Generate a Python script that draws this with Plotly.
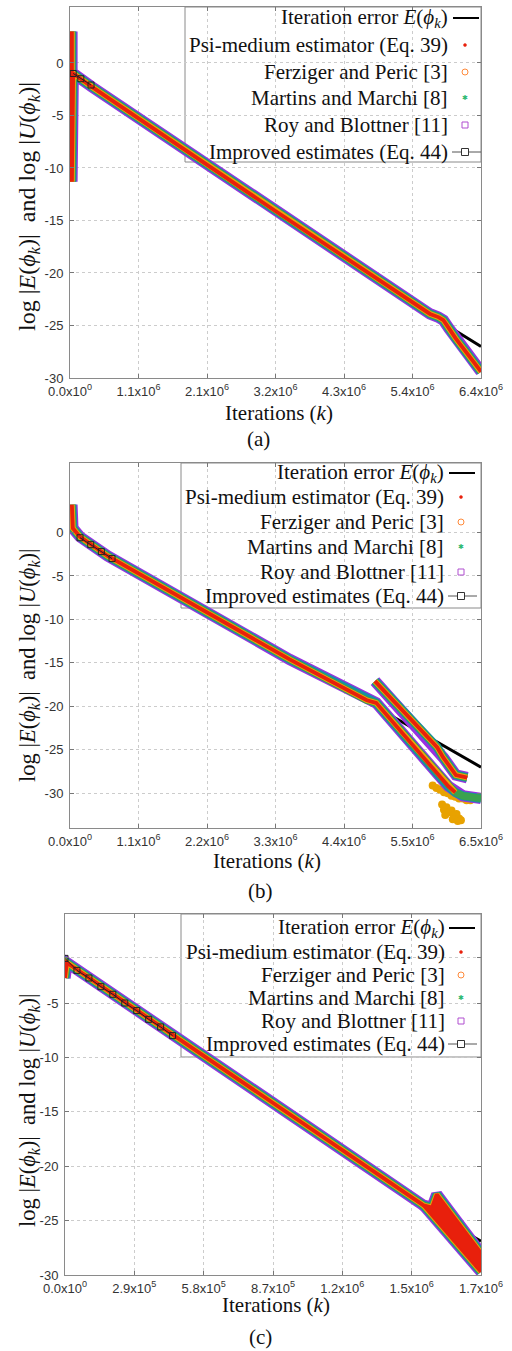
import plotly.graph_objects as go

W, H = 512, 1351

# ======================= data =======================
# ---- panel (a) ----
a_x_max = 6.45e6
a_y_range = [-30, 5.33]
a_xtick_text = ["0.0x10<sup>0</sup>", "1.1x10<sup>6</sup>", "2.1x10<sup>6</sup>", "3.2x10<sup>6</sup>",
                "4.3x10<sup>6</sup>", "5.4x10<sup>6</sup>", "6.4x10<sup>6</sup>"]
a_ytick_vals = [-30, -25, -20, -15, -10, -5, 0]
a_ytick_text = ["-30", "-25", "-20", "-15", "-10", "-5", "0"]
a_err_k = [5.0e4, 1.0e6, 2.0e6, 3.0e6, 4.0e6, 5.0e6, 6.0e6, 6.45e6]
a_err_v = [-1.0, -5.0, -9.1, -13.2, -17.2, -21.3, -25.3, -27.0]
a_est_k = [3.0e4, 3.0e4, 5.0e4, 3.5e5, 3.2e6, 5.65e6, 5.78e6, 5.86e6, 5.95e6, 6.05e6, 6.45e6]
a_est_v = [3.0, -11.3, -1.0, -2.3, -14.0, -23.9, -24.2, -24.5, -25.3, -26.2, -29.4]
a_imp_k = [5.0e4, 1.7e5, 3.3e5]
a_imp_v = [-1.0, -1.5, -2.1]

# ---- panel (b) ----
b_x_max = 6.55e6
b_y_range = [-34, 8.0]
b_xtick_text = ["0.0x10<sup>0</sup>", "1.1x10<sup>6</sup>", "2.2x10<sup>6</sup>", "3.3x10<sup>6</sup>",
                "4.4x10<sup>6</sup>", "5.5x10<sup>6</sup>", "6.5x10<sup>6</sup>"]
b_ytick_vals = [-30, -25, -20, -15, -10, -5, 0]
b_ytick_text = ["-30", "-25", "-20", "-15", "-10", "-5", "0"]
b_err_k = [3.0e4, 5.0e4, 1.5e5, 6.0e5, 2.0e6, 3.5e6, 5.1e6, 6.0e6, 6.55e6]
b_err_v = [3.0, 0.5, -0.6, -2.7, -8.4, -14.6, -21.0, -24.7, -27.0]
b_est_k = [3.0e4, 4.5e4, 1.6e5, 6.0e5, 3.5e6, 4.73e6, 4.88e6, 6.03e6, 6.14e6]
b_est_v = [3.2, 0.5, -0.5, -2.7, -14.6, -19.3, -19.6, -29.2, -29.9]
b_tail_k = [6.26e6, 6.55e6]
b_tail_v = [-30.3, -30.6]
b_upper_k = [4.86e6, 5.85e6, 5.95e6, 6.05e6, 6.15e6, 6.33e6]
b_upper_v = [-17.1, -24.7, -25.9, -26.9, -27.9, -28.2]
b_fz_k = [5.78e6, 5.84e6, 5.90e6, 5.96e6, 6.02e6, 6.08e6, 6.14e6, 6.20e6, 6.26e6, 6.32e6, 6.38e6,
          5.93e6, 5.96e6, 6.00e6, 6.04e6, 6.08e6, 6.12e6, 6.16e6, 6.20e6, 6.23e6, 5.98e6, 6.10e6, 6.18e6]
b_fz_v = [-29.1, -29.4, -29.6, -29.9, -30.0, -30.3, -30.4, -30.6, -30.6, -30.8, -30.8,
          -31.3, -31.9, -31.6, -32.2, -32.0, -32.5, -32.4, -32.9, -33.1, -32.5, -33.0, -33.2]
b_imp_k = [1.6e5, 3.3e5, 5.0e5, 6.7e5]
b_imp_v = [-0.6, -1.4, -2.2, -3.0]

# ---- panel (c) ----
c_x_max = 1.74e6
c_y_range = [-30, 3.18]
c_xtick_text = ["0.0x10<sup>0</sup>", "2.9x10<sup>5</sup>", "5.8x10<sup>5</sup>", "8.7x10<sup>5</sup>",
                "1.2x10<sup>6</sup>", "1.5x10<sup>6</sup>", "1.7x10<sup>6</sup>"]
c_ytick_vals = [-30, -25, -20, -15, -10, -5, -0.86]
c_ytick_text = ["-30", "-25", "-20", "-15", "-10", "-5", ""]
c_err_k = [0.0, 2.9e5, 5.8e5, 8.7e5, 1.16e6, 1.45e6, 1.6e6, 1.74e6]
c_err_v = [-1.2, -5.6, -10.0, -14.3, -18.7, -23.1, -25.1, -26.9]
c_est_k = [0.0, 8.0e3, 1.50e6, 1.535e6, 1.555e6, 1.74e6]
c_est_v = [-2.7, -1.3, -23.6, -23.8, -22.6, -28.0]
c_low_k = [1.50e6, 1.74e6]
c_low_v = [-23.6, -29.7]
c_psi_fill_k = [1.535e6, 1.555e6, 1.74e6, 1.74e6, 1.50e6]
c_psi_fill_v = [-23.8, -22.6, -28.0, -29.7, -23.6]
c_imp_k = [0.0, 5.0e4, 1.0e5, 1.5e5, 2.0e5, 2.5e5, 3.0e5, 3.5e5, 4.0e5, 4.5e5]
c_imp_v = [-0.9, -2.0, -2.7, -3.5, -4.2, -5.0, -5.7, -6.5, -7.2, -8.0]

legend_labels = [
    "Iteration error <i>E</i>(<i>ϕ<sub>k</sub></i>)",
    "Psi-medium estimator (Eq. 39)",
    "Ferziger and Peric [3]",
    "Martins and Marchi [8]",
    "Roy and Blottner [11]",
    "Improved estimates (Eq. 44)",
]
ytitle = "log |<i>E</i>(<i>ϕ<sub>k</sub></i>)|  and log |<i>U</i>(<i>ϕ<sub>k</sub></i>)|"
xtitle = "Iterations (<i>k</i>)"
captions = ["(a)", "(b)", "(c)"]

# ======================= styles / layout geometry =======================
PURPLE, TEAL, GREEN, ORANGE, RED = "#9a30e0", "#178fa8", "#3aa24e", "#f0a40a", "#e8200c"
band_styles = [
    ("Roy and Blottner [11]", PURPLE, 11.4, True),
    ("Improved estimates (Eq. 44)", TEAL, 9.0, True),
    ("Martins and Marchi [8]", GREEN, 7.3, True),
    ("Ferziger and Peric [3]", ORANGE, 5.6, False),
    ("Psi-medium estimator (Eq. 39)", RED, 3.8, False),
]
SERIF = "Liberation Serif, Times New Roman, serif"
SANS = "Liberation Sans, Arial, sans-serif"

geom = {
    "a": dict(x0=70, x1=481, y0=7, y1=378),
    "b": dict(x0=70, x1=481, y0=463, y1=828),
    "c": dict(x0=65, x1=481, y0=914, y1=1275),
}
leg = {
    "a": dict(box=(185, 7, 481, 162), rows=[18, 45, 72, 98, 125, 152], tx=450, sx=465, l0=453, l1=479),
    "b": dict(box=(181, 463, 481, 608), rows=[473, 497, 522, 547, 572, 596], tx=446, sx=461, l0=449, l1=475),
    "c": dict(box=(181, 914, 481, 1057), rows=[928, 952, 975, 998, 1021, 1044], tx=447, sx=461, l0=449, l1=475),
}
ytitle_pos = {"a": (29, 207, 24), "b": (29, 666, 22.5), "c": (29, 1111, 22.5)}
xtitle_pos = {"a": (279, 413), "b": (267, 861), "c": (276, 1305)}
cap_pos = {"a": (258, 439), "b": (260, 891), "c": (260, 1337)}


def px(x):
    return x / W


def py(y):
    return 1 - y / H


def join(*segs):
    xs, ys = [], []
    for i, (k, v) in enumerate(segs):
        if i:
            xs.append(None)
            ys.append(None)
        xs += list(k)
        ys += list(v)
    return xs, ys


fig = go.Figure()

panels = [
    ("a", "x", "y", a_err_k, a_err_v,
     {True: [(a_est_k, a_est_v)], False: [(a_est_k, a_est_v)]}, (a_imp_k, a_imp_v)),
    ("b", "x2", "y2", b_err_k, b_err_v,
     {True: [(b_est_k + b_tail_k, b_est_v + b_tail_v), (b_upper_k, b_upper_v)],
      False: [(b_est_k, b_est_v), (b_upper_k, b_upper_v)]}, (b_imp_k, b_imp_v)),
    ("c", "x3", "y3", c_err_k, c_err_v,
     {True: [(c_est_k, c_est_v), (c_low_k, c_low_v)],
      False: [(c_est_k, c_est_v), (c_low_k, c_low_v)]}, (c_imp_k, c_imp_v)),
]

for name, xa, ya, ek, ev, segs, imp in panels:
    fig.add_trace(go.Scatter(x=ek, y=ev, mode="lines", line=dict(color="black", width=3),
                             xaxis=xa, yaxis=ya, showlegend=False, hoverinfo="skip"))
    if name == "b":
        fig.add_trace(go.Scatter(x=b_fz_k, y=b_fz_v, mode="markers",
                                 marker=dict(color="#e8a200", size=8, symbol="circle", line=dict(width=0)),
                                 xaxis=xa, yaxis=ya, showlegend=False, hoverinfo="skip"))
    for label, color, width, long_ in band_styles:
        xs, ys = join(*segs[long_])
        fig.add_trace(go.Scatter(x=xs, y=ys, mode="lines", name=label,
                                 line=dict(color=color, width=width),
                                 xaxis=xa, yaxis=ya, showlegend=False, hoverinfo="skip"))
    if name == "c":
        fig.add_trace(go.Scatter(x=c_psi_fill_k, y=c_psi_fill_v, mode="lines", fill="toself",
                                 fillcolor=RED, line=dict(color=RED, width=1),
                                 xaxis=xa, yaxis=ya, showlegend=False, hoverinfo="skip"))
    fig.add_trace(go.Scatter(x=imp[0], y=imp[1], mode="lines+markers",
                             line=dict(color="#222222", width=1),
                             marker=dict(symbol="square-open", size=6, color="#222222", line=dict(width=1)),
                             xaxis=xa, yaxis=ya, showlegend=False, hoverinfo="skip"))

layout = dict(width=W, height=H, autosize=False, margin=dict(l=0, r=0, t=0, b=0, pad=0, autoexpand=False),
              paper_bgcolor="white", plot_bgcolor="white", showlegend=False)

axis_data = {
    "a": (a_x_max, a_xtick_text, a_y_range, a_ytick_vals, a_ytick_text),
    "b": (b_x_max, b_xtick_text, b_y_range, b_ytick_vals, b_ytick_text),
    "c": (c_x_max, c_xtick_text, c_y_range, c_ytick_vals, c_ytick_text),
}
common = dict(showgrid=True, gridcolor="#cccccc", griddash="dot", gridwidth=1, zeroline=False,
              showline=True, linecolor="#8a8a8a", linewidth=1, mirror="allticks", ticks="inside",
              ticklen=4, tickcolor="#777777", fixedrange=True, automargin=False,
              tickfont=dict(family=SANS, size=13, color="#333333"))
shapes, annotations = [], []
for idx, name in enumerate(["a", "b", "c"]):
    g = geom[name]
    xmax, xtt, yr, ytv, ytt = axis_data[name]
    sfx = "" if idx == 0 else str(idx + 1)
    layout["xaxis" + sfx] = dict(common, domain=[px(g["x0"]), px(g["x1"])], range=[0, xmax],
                                 tickvals=[xmax * i / 6 for i in range(7)], ticktext=xtt,
                                 anchor="y" + sfx, ticklabelstandoff=1)
    layout["yaxis" + sfx] = dict(common, domain=[py(g["y1"]), py(g["y0"])], range=yr,
                                 tickvals=ytv, ticktext=ytt, anchor="x" + sfx, ticklabelstandoff=3)

    def dx(p, g=g, xmax=xmax):
        return (p - g["x0"]) / (g["x1"] - g["x0"]) * xmax

    def dy(p, g=g, yr=yr):
        return yr[0] + (g["y1"] - p) / (g["y1"] - g["y0"]) * (yr[1] - yr[0])

    L = leg[name]
    bx0, by0, bx1, by1 = L["box"]
    shapes.append(dict(type="rect", xref="x" + sfx, yref="y" + sfx, layer="below",
                       x0=dx(bx0), x1=dx(bx1), y0=dy(by1), y1=dy(by0),
                       fillcolor="white", line=dict(color="#8a8a8a", width=1)))
    for r, (lab, ry) in enumerate(zip(legend_labels, L["rows"])):
        annotations.append(dict(text=lab, x=px(L["tx"]), y=py(ry), xref="paper", yref="paper",
                                xanchor="right", yanchor="middle", showarrow=False,
                                font=dict(family=SERIF, size=21, color="#111111")))
    rows, sx = L["rows"], L["sx"]
    shapes.append(dict(type="line", xref="paper", yref="paper", x0=px(L["l0"]), x1=px(L["l1"]),
                       y0=py(rows[0]), y1=py(rows[0]), line=dict(color="black", width=2)))
    shapes.append(dict(type="circle", xref="paper", yref="paper", x0=px(sx - 1.5), x1=px(sx + 1.5),
                       y0=py(rows[1] + 1.5), y1=py(rows[1] - 1.5), fillcolor=RED,
                       line=dict(color=RED, width=0.5)))
    shapes.append(dict(type="circle", xref="paper", yref="paper", x0=px(sx - 3), x1=px(sx + 3),
                       y0=py(rows[2] + 3), y1=py(rows[2] - 3), line=dict(color="#ff8a3a", width=1)))
    annotations.append(dict(text="✱", x=px(sx), y=py(rows[3]), xref="paper", yref="paper",
                            xanchor="center", yanchor="middle", showarrow=False,
                            font=dict(family="DejaVu Sans", size=7, color="#2eb872")))
    shapes.append(dict(type="rect", xref="paper", yref="paper", x0=px(sx - 3), x1=px(sx + 3),
                       y0=py(rows[4] + 3), y1=py(rows[4] - 3), line=dict(color="#b04fd0", width=1)))
    shapes.append(dict(type="line", xref="paper", yref="paper", x0=px(L["l0"] - 1), x1=px(L["l1"] + 2),
                       y0=py(rows[5]), y1=py(rows[5]), line=dict(color="#555555", width=1)))
    shapes.append(dict(type="rect", xref="paper", yref="paper", x0=px(sx - 3.5), x1=px(sx + 3.5),
                       y0=py(rows[5] + 3.5), y1=py(rows[5] - 3.5), fillcolor="white",
                       line=dict(color="#333333", width=1)))
    ytp = ytitle_pos[name]
    annotations.append(dict(text=ytitle, x=px(ytp[0]), y=py(ytp[1]), xref="paper", yref="paper",
                            textangle=-90, xanchor="center", yanchor="middle", showarrow=False,
                            font=dict(family=SERIF, size=ytp[2], color="#111111")))
    xt = xtitle_pos[name]
    annotations.append(dict(text=xtitle, x=px(xt[0]), y=py(xt[1]), xref="paper", yref="paper",
                            xanchor="center", yanchor="middle", showarrow=False,
                            font=dict(family=SERIF, size=21, color="#111111")))
    cp = cap_pos[name]
    annotations.append(dict(text=captions[idx], x=px(cp[0]), y=py(cp[1]), xref="paper", yref="paper",
                            xanchor="center", yanchor="middle", showarrow=False,
                            font=dict(family=SERIF, size=21, color="#111111")))

layout["shapes"] = shapes
layout["annotations"] = annotations
fig.update_layout(**layout)
fig.write_html("out.html", config={"responsive": False})
